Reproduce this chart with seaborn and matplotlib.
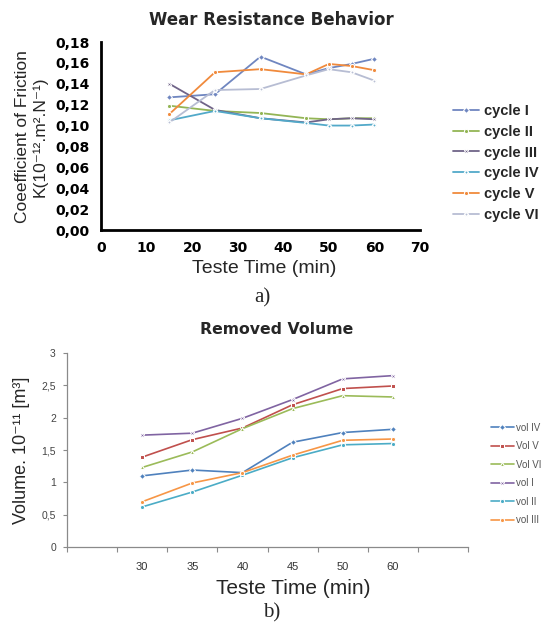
import matplotlib
matplotlib.use("Agg")
import matplotlib.pyplot as plt
import seaborn as sns
import pandas as pd
from matplotlib.ticker import FixedLocator, FuncFormatter

# ---------------- data: (a) Wear resistance ----------------
time_a = [15, 25, 35, 45, 50, 55, 60]
cycle_I = [0.127, 0.130, 0.166, 0.149, 0.155, 0.159, 0.164]
cycle_II = [0.119, 0.114, 0.112, 0.107, 0.106, 0.107, 0.107]
cycle_III = [0.140, 0.115, 0.107, 0.103, 0.106, 0.107, 0.106]
cycle_IV = [0.105, 0.114, 0.107, 0.1025, 0.100, 0.100, 0.101]
cycle_V = [0.111, 0.151, 0.154, 0.149, 0.159, 0.157, 0.153]
cycle_VI = [0.103, 0.134, 0.135, 0.148, 0.154, 0.151, 0.143]
cycle_names = ["cycle I", "cycle II", "cycle III", "cycle IV", "cycle V", "cycle VI"]
x_ticks_a = [0, 10, 20, 30, 40, 50, 60, 70]
y_ticks_a = [0.00, 0.02, 0.04, 0.06, 0.08, 0.10, 0.12, 0.14, 0.16, 0.18]

# ---------------- data: (b) Removed volume ----------------
time_b = ["30", "35", "40", "45", "50", "60"]
vol_IV = [1.10, 1.19, 1.15, 1.62, 1.77, 1.82]
vol_V = [1.39, 1.66, 1.84, 2.20, 2.45, 2.49]
vol_VI = [1.23, 1.47, 1.83, 2.14, 2.34, 2.32]
vol_I = [1.73, 1.76, 1.99, 2.28, 2.60, 2.65]
vol_II = [0.62, 0.85, 1.11, 1.38, 1.58, 1.60]
vol_III = [0.70, 0.99, 1.15, 1.42, 1.65, 1.67]
vol_names = ["vol IV", "Vol V", "Vol VI", "vol I", "vol II", "vol III"]
y_ticks_b = [0, 0.5, 1, 1.5, 2, 2.5, 3]

colors_a = ["#6f86c0", "#93b555", "#706488", "#52a9c9", "#f08a3c", "#b7bdd3"]
markers_a = ["D", "o", "X", "P", "o", "P"]
colors_b = ["#4f81bd", "#c0504d", "#9bbb59", "#8064a2", "#4bacc6", "#f79646"]
markers_b = ["D", "s", "^", "X", "o", "o"]

sns.set_style("white")
FAM = ["Liberation Sans", "DejaVu Sans"]
plt.rcParams["font.family"] = FAM
BOLDFAM = ["DejaVu Sans"]

fig = plt.figure(figsize=(5.41, 6.25), dpi=100)
W, H = 541.0, 625.0

def ax_rect(l, t, r, b):
    return [l / W, 1 - b / H, (r - l) / W, (b - t) / H]

# ================= (a) =================
ax1 = fig.add_axes(ax_rect(101, 42, 420, 230))
series_a = [cycle_I, cycle_II, cycle_III, cycle_IV, cycle_V, cycle_VI]
df_a = pd.DataFrame({
    "time": time_a * len(cycle_names),
    "value": sum(series_a, []),
    "cycle": [n for n in cycle_names for _ in time_a],
})
sns.lineplot(data=df_a, x="time", y="value", hue="cycle", style="cycle",
             hue_order=cycle_names, style_order=cycle_names,
             palette=colors_a, markers=markers_a, dashes=False,
             markersize=3, linewidth=1.3, ax=ax1, legend=True)
ax1.set_xlim(0, 70)
ax1.set_ylim(0, 0.18)
ax1.xaxis.set_major_locator(FixedLocator(x_ticks_a))
ax1.yaxis.set_major_locator(FixedLocator(y_ticks_a))
ax1.yaxis.set_major_formatter(FuncFormatter(lambda v, p: f"{v:.2f}".replace(".", ",")))
for s in ["top", "right"]:
    ax1.spines[s].set_visible(False)
for s in ["left", "bottom"]:
    ax1.spines[s].set_color("black")
    ax1.spines[s].set_linewidth(2)
ax1.tick_params(axis="both", length=0, labelsize=10, pad=8, colors="black")
for lab in ax1.get_xticklabels() + ax1.get_yticklabels():
    lab.set_fontweight("bold")
    lab.set_family(BOLDFAM)
ax1.set_xlabel("")
ax1.set_ylabel("")
h, l = ax1.get_legend_handles_labels()
ax1.legend(h, l, loc="upper left", bbox_to_anchor=(440 / W, 1 - 91 / H),
           bbox_transform=fig.transFigure, frameon=False,
           prop={"weight": "bold", "size": 10.5, "family": FAM}, handlelength=1.8,
           labelspacing=0.46, handletextpad=0.3)

fig.text(271 / W, 1 - 20 / H, "Wear Resistance Behavior", ha="center", va="center",
         fontsize=12, fontweight="bold", family=BOLDFAM)
fig.text(264 / W, 1 - 268 / H, "Teste Time (min)", ha="center", va="center", fontsize=14)
fig.text(31 / W, 1 - 137 / H,
         "Coeefficient of Friction\nK(10\u207b\u00b9\u00b2.m\u00b2.N\u207b\u00b9)",
         ha="center", va="center", rotation=90, fontsize=12.5, linespacing=1.15,
         family=FAM)
fig.text(262 / W, 1 - 298 / H, "a)", ha="center", va="center", fontsize=15,
         family=["Liberation Serif", "DejaVu Serif"])

# ================= (b) =================
ax2 = fig.add_axes(ax_rect(67, 353, 468, 547))
series_b = [vol_IV, vol_V, vol_VI, vol_I, vol_II, vol_III]
pos_b = list(range(1, len(time_b) + 1))
df_b = pd.DataFrame({
    "pos": pos_b * len(vol_names),
    "value": sum(series_b, []),
    "vol": [n for n in vol_names for _ in time_b],
})
sns.lineplot(data=df_b, x="pos", y="value", hue="vol", style="vol",
             hue_order=vol_names, style_order=vol_names,
             palette=colors_b, markers=markers_b, dashes=False,
             markersize=3, linewidth=1.2, ax=ax2, legend=True)
ax2.set_xlim(-0.5, 7.5)
ax2.set_ylim(0, 3)
ax2.xaxis.set_major_locator(FixedLocator(pos_b))
ax2.set_xticklabels(time_b)
ax2.xaxis.set_minor_locator(FixedLocator([i - 0.5 for i in range(0, 9)]))
ax2.yaxis.set_major_locator(FixedLocator(y_ticks_b))
ax2.yaxis.set_major_formatter(FuncFormatter(lambda v, p: (f"{v:g}").replace(".", ",")))
for s in ["top", "right"]:
    ax2.spines[s].set_visible(False)
for s in ["left", "bottom"]:
    ax2.spines[s].set_color("#8a8a8a")
    ax2.spines[s].set_linewidth(0.9)
ax2.tick_params(axis="x", which="major", bottom=True, length=0, labelsize=8, pad=11,
                labelcolor="#333333")
ax2.tick_params(axis="x", which="minor", bottom=True, length=3.5, width=0.8,
                color="#8a8a8a", direction="out")
ax2.tick_params(axis="y", which="major", left=True, length=3, width=0.8, color="#8a8a8a",
                direction="out", labelsize=7.5, labelcolor="#444444", pad=5)
ax2.set_xlabel("")
ax2.set_ylabel("")
h2, l2 = ax2.get_legend_handles_labels()
ax2.legend(h2, l2, loc="upper left", bbox_to_anchor=(482 / W, 1 - 414 / H),
           bbox_transform=fig.transFigure, frameon=False,
           prop={"size": 7}, labelcolor="#555555",
           handlelength=2.4, labelspacing=0.87, handletextpad=0.2)

fig.text(277 / W, 1 - 330 / H, "Removed Volume", ha="center", va="center",
         fontsize=11.3, fontweight="bold", family=BOLDFAM)
fig.text(293 / W, 1 - 588 / H, "Teste Time (min)", ha="center", va="center", fontsize=15)
fig.text(22 / W, 1 - 450 / H, "Volume. 10\u207b\u00b9\u00b9 [m\u00b3]", ha="center",
         va="center", rotation=90, fontsize=13, family=FAM)
fig.text(272 / W, 1 - 613 / H, "b)", ha="center", va="center", fontsize=15,
         family=["Liberation Serif", "DejaVu Serif"])

fig.savefig("out.png", dpi=100)
